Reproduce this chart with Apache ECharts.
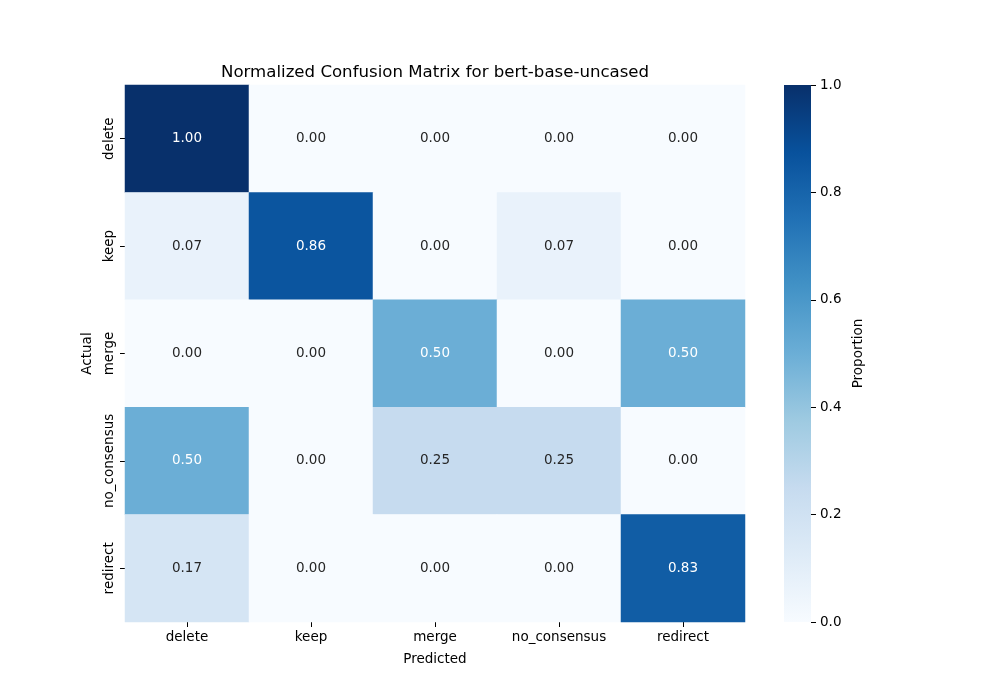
<!DOCTYPE html>
<html><head><meta charset="utf-8">
<script src="https://cdn.jsdelivr.net/npm/echarts@6/dist/echarts.min.js"></script>
<style>html,body{margin:0;padding:0;background:#fff}#c{width:1000px;height:700px}</style>
</head><body><div id="c"></div>
<script>
const predicted = ['delete','keep','merge','no_consensus','redirect'];
const actual = ['delete','keep','merge','no_consensus','redirect'];
const row_delete = [1.00, 0.00, 0.00, 0.00, 0.00];
const row_keep = [0.07, 0.86, 0.00, 0.07, 0.00];
const row_merge = [0.00, 0.00, 0.50, 0.00, 0.50];
const row_no_consensus = [0.50, 0.00, 0.25, 0.25, 0.00];
const row_redirect = [0.17, 0.00, 0.00, 0.00, 0.83];
const colorbarTicks = [0.0, 0.2, 0.4, 0.6, 0.8, 1.0];
const blues = ['#f7fbff','#deebf7','#c6dbef','#9ecae1','#6baed6','#4292c6','#2171b5','#08519c','#08306b'];

const rows = [row_delete, row_keep, row_merge, row_no_consensus, row_redirect];
const data = [];
rows.forEach((r, yi) => r.forEach((v, xi) => {
  data.push({value: [xi, yi, v], label: {color: v > 0.45 ? '#ffffff' : '#262626'}});
}));
const font = 'DejaVu Sans';
const fs = 13.5;
const chart = echarts.init(document.getElementById('c'));
chart.setOption({
  animation: false,
  textStyle: {fontFamily: font},
  title: {text: 'Normalized Confusion Matrix for bert-base-uncased', left: 216, top: 59,
    textStyle: {fontFamily: font, fontSize: 16.6, fontWeight: 'normal', color: '#000'}},
  grid: [
    {left: 125, top: 85, width: 620, height: 537},
    {left: 784, top: 85, width: 27, height: 537}
  ],
  xAxis: [
    {type: 'category', data: predicted, gridIndex: 0, name: 'Predicted', nameLocation: 'middle', nameGap: 30,
      nameTextStyle: {fontFamily: font, fontSize: fs, color: '#000'},
      axisLine: {show: false}, axisTick: {show: true, alignWithLabel: true, length: 5, lineStyle: {color: '#000'}},
      axisLabel: {fontFamily: font, fontSize: fs, color: '#000', margin: 8, interval: 0}, splitLine: {show: false}},
    {type: 'category', data: [''], gridIndex: 1, show: false}
  ],
  yAxis: [
    {type: 'category', data: actual, gridIndex: 0, inverse: true, name: 'Actual', nameLocation: 'middle', nameGap: 31, nameRotate: 90,
      nameTextStyle: {fontFamily: font, fontSize: fs, color: '#000'},
      axisLine: {show: false}, axisTick: {show: true, alignWithLabel: true, length: 5, lineStyle: {color: '#000'}, interval: 0},
      axisLabel: {fontFamily: font, fontSize: fs, color: '#000', rotate: 90, margin: 9, interval: 0}, splitLine: {show: false}},
    {type: 'value', gridIndex: 1, min: 0, max: 1, interval: 0.2, position: 'right',
      name: 'Proportion', nameLocation: 'middle', nameGap: 40, nameRotate: 90,
      nameTextStyle: {fontFamily: font, fontSize: fs, color: '#000'},
      axisLine: {show: false}, axisTick: {show: true, length: 5, lineStyle: {color: '#000'}},
      axisLabel: {fontFamily: font, fontSize: fs, color: '#000', margin: 9,
        formatter: v => colorbarTicks.includes(Math.round(v*10)/10) ? v.toFixed(1) : ''},
      splitLine: {show: false}}
  ],
  visualMap: {show: false, min: 0, max: 1, seriesIndex: 0, inRange: {color: blues}},
  series: [
    {type: 'heatmap', xAxisIndex: 0, yAxisIndex: 0, data: data,
      label: {show: true, fontFamily: font, fontSize: fs, formatter: p => p.value[2].toFixed(2)},
      itemStyle: {borderWidth: 0}, emphasis: {disabled: true}},
    {type: 'bar', xAxisIndex: 1, yAxisIndex: 1, data: [1], barWidth: '100%',
      itemStyle: {color: new echarts.graphic.LinearGradient(0, 1, 0, 0,
        blues.map((c, i) => ({offset: i / (blues.length - 1), color: c})))}}
  ]
});
</script></body></html>
